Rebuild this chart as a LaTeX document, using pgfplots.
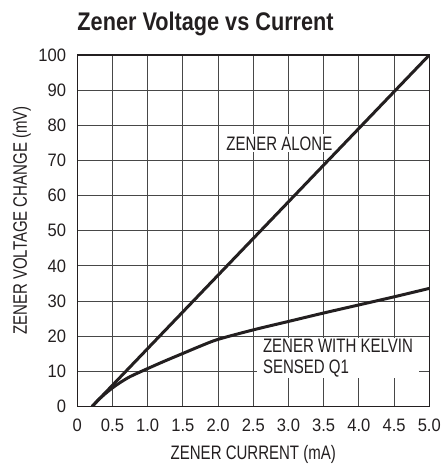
\documentclass[border=0pt]{standalone}
\usepackage{pgfplots}
\pgfplotsset{compat=1.18}
\usepackage{fontspec}
\setmainfont{Liberation Sans}
\newfontfamily\tickfont{Liberation Sans}[FakeStretch=0.92]
\newfontfamily\condfont{Liberation Sans}[FakeStretch=0.77]
\newfontfamily\condbold{Liberation Sans Bold}[FakeStretch=0.85]
\definecolor{ink}{RGB}{35,31,32}
\begin{document}
\begin{tikzpicture}
\begin{axis}[
  scale only axis, width=352pt, height=351.5pt,
  xmin=0, xmax=5, ymin=0, ymax=100,
  xtick={0,0.5,1,1.5,2,2.5,3,3.5,4,4.5,5},
  xticklabels={0,0.5,1.0,1.5,2.0,2.5,3.0,3.5,4.0,4.5,5.0},
  ytick={0,10,20,30,40,50,60,70,80,90,100},
  grid=major,
  major grid style={draw=black!72, line width=1.1pt},
  axis line style={draw=ink, line width=1.4pt},
  major tick length=0pt,
  /pgf/number format/assume math mode=true,
  tick label style={font=\tickfont\fontsize{18}{22}\selectfont, text=ink},
  xticklabel style={anchor=base, inner sep=0pt, yshift=-25pt},
  yticklabel style={anchor=east, inner sep=0pt, xshift=-11pt},
  xlabel={ZENER CURRENT (mA)},
  ylabel={ZENER VOLTAGE CHANGE (mV)},
  label style={font=\condfont\fontsize{19.5}{24}\selectfont, text=ink},
  xlabel style={at={(axis description cs:0.5,-0.1495)}, anchor=base, inner sep=0pt},
  ylabel style={at={(axis description cs:-0.1435,0.529)}, anchor=base, inner sep=0pt},
]
\node[fill=white, inner xsep=1pt, inner ysep=2pt, anchor=base west,
  font=\condfont\fontsize{19.5}{22}\selectfont, text=ink]
  at (axis cs:2.10,72.97) {ZENER ALONE};
\node[fill=white, inner xsep=6pt, inner ysep=1pt, anchor=base west, align=left,
  font=\condfont\fontsize{19.5}{21}\selectfont, text=ink]
  at (axis cs:2.55,9.45) {ZENER WITH KELVIN\\SENSED Q1};
\addplot[ink, line width=3pt] coordinates {(0.21,0) (5,100)};
\addplot[ink, line width=3pt, smooth] coordinates {
 (0.21,0) (0.3,1.9) (0.4,3.7) (0.5,5.3) (0.6,6.7) (0.75,8.5) (1.0,10.8)
 (1.25,13.0) (1.5,15.1) (1.75,17.2) (2.0,19.1) (2.5,21.8) (3.0,24.2)
 (3.5,26.6) (4.0,28.9) (4.5,31.2) (5.0,33.6)};
\coordinate (o) at (rel axis cs:0,0);
\end{axis}
\path (o) ++(0pt,375.5pt) node[anchor=base west, inner sep=0pt,
  font=\condbold\fontsize{25.5}{30}\selectfont, text=ink] {Zener Voltage vs Current};
\path (o) ++(-77.3pt,-57.5pt) rectangle ++(440pt,464pt);
\end{tikzpicture}
\end{document}
